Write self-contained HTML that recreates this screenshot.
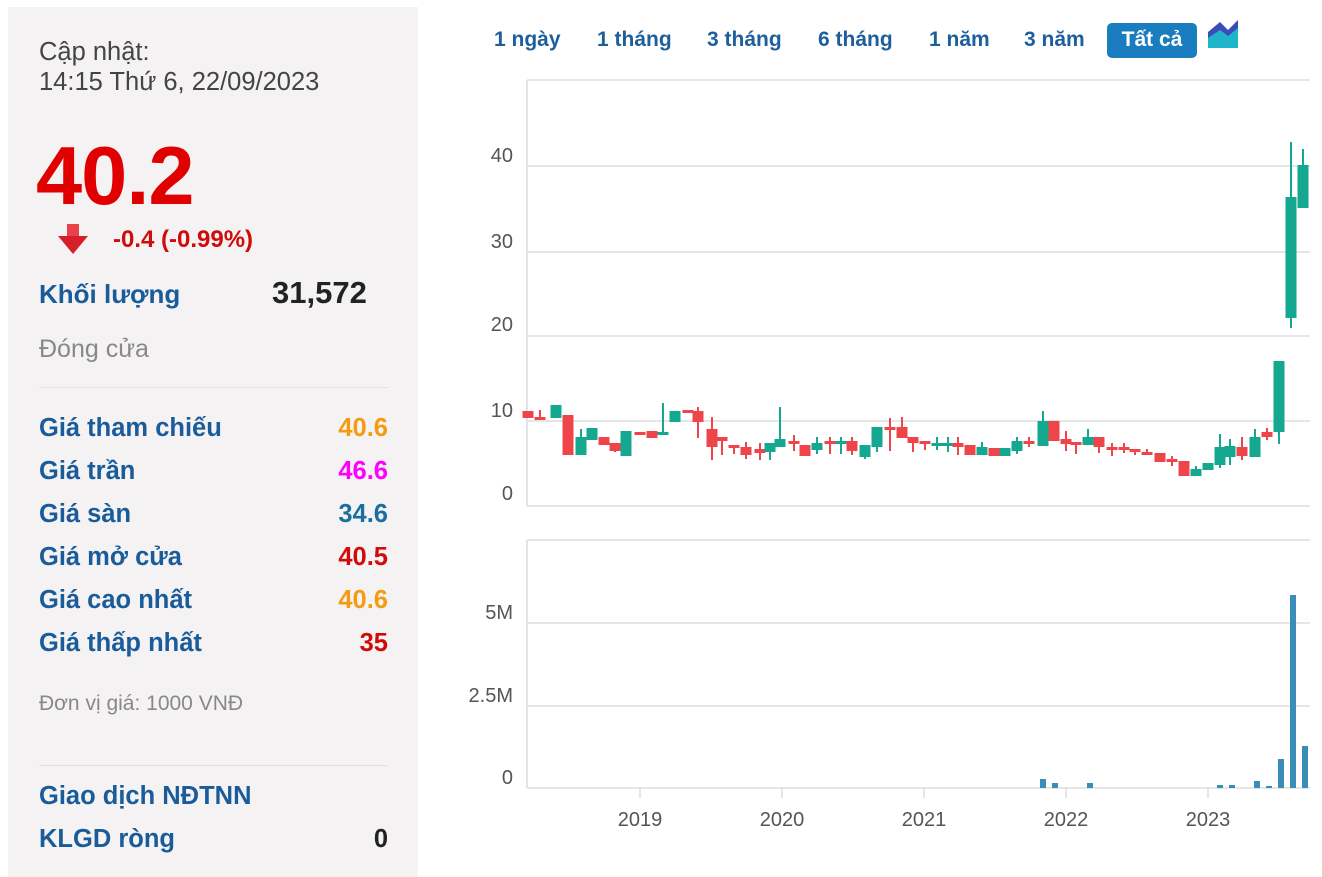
<!DOCTYPE html>
<html><head><meta charset="utf-8"><style>
body{margin:0;width:1322px;height:864px;background:#fff;font-family:"Liberation Sans",Arial,sans-serif;position:relative;overflow:hidden}
.lp{position:absolute;left:8px;top:7px;width:410px;height:870px;background:#f4f2f3}
.t{position:absolute;white-space:nowrap}
.b{font-weight:bold}
.blue{color:#1a5c9a}
.row{position:absolute;left:39px;width:349px;font-size:25.5px;font-weight:bold;color:#1a5c9a}
.row span{position:absolute;right:0}
.btn{position:absolute;top:28px;font-size:21px;font-weight:bold;color:#1d5f9c}
</style></head><body>
<div class="lp"></div>
<div class="t" style="left:39px;top:38px;font-size:25.5px;color:#444">Cập nhật:</div>
<div class="t" style="left:39px;top:68px;font-size:25.5px;color:#444">14:15 Thứ 6, 22/09/2023</div>
<div class="t b" style="left:36px;top:128px;font-size:83px;color:#e00000;letter-spacing:-1px">40.2</div>
<svg style="position:absolute;left:56px;top:222px" width="36" height="36"><rect x="11" y="2" width="12" height="14" fill="#e8424a"/><polygon points="2,14 32,14 17,32" fill="#d61f2a"/></svg>
<div class="t b" style="left:113px;top:226px;font-size:24px;color:#d10a0a">-0.4 (-0.99%)</div>
<div class="t b blue" style="left:39px;top:279px;font-size:26px">Khối lượng</div>
<div class="t b" style="left:272px;top:275px;font-size:31px;color:#222">31,572</div>
<div class="t" style="left:39px;top:335px;font-size:25px;color:#888">Đóng cửa</div>
<div style="position:absolute;left:39px;top:387px;width:349px;height:1px;background:#e2e0e1"></div>
<div class="row" style="top:414px">Giá tham chiếu<span style="color:#f39c12">40.6</span></div>
<div class="row" style="top:457px">Giá trần<span style="color:#ff00ff">46.6</span></div>
<div class="row" style="top:500px">Giá sàn<span style="color:#1a6fa0">34.6</span></div>
<div class="row" style="top:543px">Giá mở cửa<span style="color:#d10a0a">40.5</span></div>
<div class="row" style="top:586px">Giá cao nhất<span style="color:#f39c12">40.6</span></div>
<div class="row" style="top:629px">Giá thấp nhất<span style="color:#d10a0a">35</span></div>
<div class="t" style="left:39px;top:692px;font-size:21px;color:#888">Đơn vị giá: 1000 VNĐ</div>
<div style="position:absolute;left:39px;top:765px;width:349px;height:1px;background:#e2e0e1"></div>
<div class="row" style="top:782px">Giao dịch NĐTNN</div>
<div class="row" style="top:825px">KLGD ròng<span style="color:#222">0</span></div>

<div class="btn" style="left:494px">1 ngày</div>
<div class="btn" style="left:597px">1 tháng</div>
<div class="btn" style="left:707px">3 tháng</div>
<div class="btn" style="left:818px">6 tháng</div>
<div class="btn" style="left:929px">1 năm</div>
<div class="btn" style="left:1024px">3 năm</div>
<div style="position:absolute;left:1107px;top:23px;width:90px;height:35px;background:#1a7dc0;border-radius:5px;color:#fff;font-size:21px;font-weight:bold;text-align:center;line-height:33px">Tất cả</div>
<svg style="position:absolute;left:1208px;top:18px" width="32" height="32"><polygon points="0,14 12,4 20,12 30,2 30,30 0,30" fill="#3b4db8"/><polygon points="0,20 12,12 20,18 30,10 30,30 0,30" fill="#1fb5c9"/></svg>

<svg id="c" style="position:absolute;left:0;top:0" width="1322" height="864"></svg>
<script>
var s='';
function L(x1,y1,x2,y2,c,w){s+='<line x1="'+x1+'" y1="'+y1+'" x2="'+x2+'" y2="'+y2+'" stroke="'+c+'" stroke-width="'+(w||1)+'"/>';}
function T(x,y,t,a){s+='<text x="'+x+'" y="'+y+'" font-size="20" fill="#555" text-anchor="'+(a||'end')+'" font-family="Liberation Sans,sans-serif">'+t+'</text>';}
L(527,80,1310,80,'#e6e6e6',2);
[166,252,336,421].forEach(function(y){L(527,y,1310,y,'#e6e6e6',2);});
L(527,506,1310,506,'#e6e6e6',2);L(527,80,527,506,'#e2e4ec',2);
T(513,162,'40');T(513,248,'30');T(513,331,'20');T(513,417,'10');T(513,500,'0');
L(527,540,1310,540,'#e6e6e6',2);L(527,623,1310,623,'#e6e6e6',2);L(527,706,1310,706,'#e6e6e6',2);
L(527,788,1310,788,'#e6e6e6',2);L(527,540,527,788,'#e2e4ec',2);
T(513,619,'5M');T(513,702,'2.5M');T(513,784,'0');
[[640,'2019'],[782,'2020'],[924,'2021'],[1066,'2022'],[1208,'2023']].forEach(function(a){L(a[0],788,a[0],798,'#ccc',1);T(a[0],826,a[1],'middle');});
var R='#f0444b',G='#13a88f';
var d=[[528,R,411,411,418,418],[540,R,410,417,419,419],[556,G,405,405,418,418],[568,R,415,415,455,455],[581,G,429,437,455,455],[592,G,428,428,440,440],[604,R,437,437,445,445],[615,R,443,443,451,452],[626,G,431,431,456,456],[640,R,432,432,435,435],[652,R,431,431,438,438],[663,G,403,432,434,434],[675,G,411,411,422,422],[688,R,410,410,412,412],[698,R,407,411,422,438],[712,R,417,429,447,460],[722,R,437,437,441,455],[734,R,445,445,448,454],[746,R,442,447,455,459],[760,R,443,449,453,460],[770,G,443,443,452,460],[780,G,407,439,447,447],[794,R,435,441,443,451],[805,R,445,445,456,456],[817,G,437,443,450,454],[830,R,437,441,443,454],[841,G,437,441,443,454],[852,R,437,441,451,455],[865,G,445,445,457,459],[877,G,427,427,447,452],[890,R,418,427,429,451],[902,R,417,427,438,438],[913,R,437,437,443,452],[925,R,441,441,444,450],[937,G,437,443,445,450],[948,G,437,443,445,452],[958,R,437,443,447,455],[970,R,445,445,455,455],[982,G,442,447,455,455],[994,R,448,448,456,456],[1005,G,448,448,456,456],[1017,G,437,441,451,454],[1029,R,437,441,443,447],[1043,G,411,421,446,446],[1054,R,421,421,441,441],[1066,R,431,439,444,451],[1076,R,442,442,444,454],[1088,G,429,437,445,445],[1099,R,437,437,447,453],[1112,R,443,447,449,456],[1124,R,443,447,449,453],[1135,R,449,449,451,455],[1147,R,449,452,454,454],[1160,R,453,453,462,462],[1172,R,456,459,462,466],[1184,R,461,461,476,476],[1196,G,466,469,476,476],[1208,G,463,463,470,470],[1220,G,434,447,465,468],[1230,G,439,446,457,465],[1242,R,437,447,456,460],[1255,G,429,437,457,457],[1267,R,428,432,437,440],[1279,G,361,361,432,444],[1291,G,142,197,318,328],[1303,G,149,165,208,208]];
d.forEach(function(c){L(c[0],c[2],c[0],c[5],c[1],2);var h=Math.max(c[4]-c[3],3);s+='<rect x="'+(c[0]-5.5)+'" y="'+c[3]+'" width="11" height="'+h+'" fill="'+c[1]+'"/>';});
[[1043,779],[1055,783],[1090,783],[1220,785],[1232,785],[1257,781],[1269,786],[1281,759],[1293,595],[1305,746]].forEach(function(v){s+='<rect x="'+(v[0]-3)+'" y="'+v[1]+'" width="6" height="'+(788-v[1])+'" fill="#3a8db8"/>';});
document.getElementById('c').innerHTML=s;
</script>
</body></html>
